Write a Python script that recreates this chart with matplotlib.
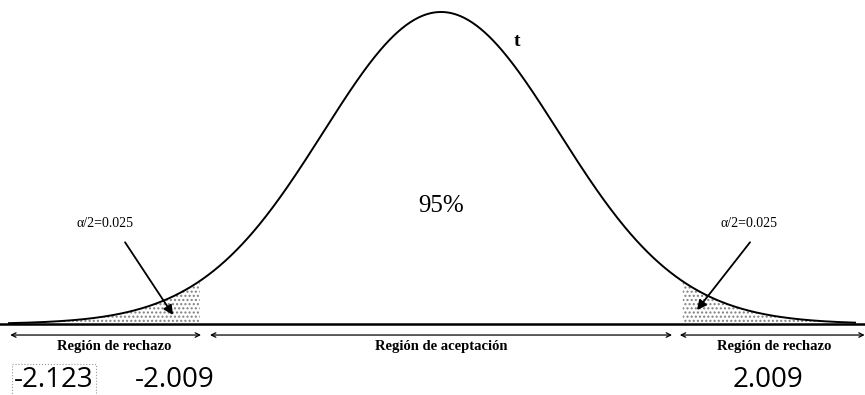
import math
import numpy as np
import matplotlib
matplotlib.use("Agg")
import matplotlib.pyplot as plt

# t distribution, two-sided test at 5%
df = 50
t_crit = 2.009
pct_label = "95%"
alpha_label = "\u03b1/2=0.025"
region_labels = ["Regi\u00f3n de rechazo", "Regi\u00f3n de aceptaci\u00f3n", "Regi\u00f3n de rechazo"]
value_labels = ["-2.123", "-2.009", "2.009"]


def t_pdf(x, v):
    c = math.exp(math.lgamma((v + 1) / 2) - math.lgamma(v / 2)) / math.sqrt(v * math.pi)
    return c * (1 + x ** 2 / v) ** (-(v + 1) / 2)


x = np.linspace(-3.6, 3.45, 600)
y = t_pdf(x, df)

fig = plt.figure(figsize=(8.65, 3.95), dpi=100)
ax = fig.add_axes([0, 0, 1, 1])
ax.set_xlim(-3.675, 3.533)
ax.set_ylim(-0.0903, 0.4122)
ax.axis("off")

# shaded tails
left = x <= -t_crit
right = x >= t_crit
ax.fill_between(x[left], 0, y[left], facecolor="white", edgecolor="0.5", hatch="....", lw=0)
ax.fill_between(x[right], 0, y[right], facecolor="white", edgecolor="0.5", hatch="....", lw=0)

# curve and baseline
ax.plot(x, y, color="black", lw=1.4)
ax.axhline(0, color="black", lw=1.8)

# double arrows for the regions
ya = -0.014
spans = [(-3.59, -2.0), (-1.925, 1.925), (1.99, 3.53)]
for (a, b) in spans:
    ax.annotate("", xy=(b, ya), xytext=(a, ya),
                arrowprops=dict(arrowstyle="<->", lw=0.9, color="black",
                                shrinkA=0, shrinkB=0, mutation_scale=8))

serif = "Liberation Serif"
ax.text(-2.725, -0.028, region_labels[0], ha="center", va="center",
        fontsize=10.5, family=serif, weight="bold")
ax.text(0.0, -0.028, region_labels[1], ha="center", va="center",
        fontsize=10.5, family=serif, weight="bold")
ax.text(2.3, -0.028, region_labels[2], ha="left", va="center",
        fontsize=10.5, family=serif, weight="bold")

# critical values
ax.text(-3.225, -0.0713, value_labels[0], ha="center", va="center", fontsize=20,
        family="Open Sans",
        bbox=dict(boxstyle="square,pad=0.08", fc="none", ec="0.6", ls=":", lw=0.8))
ax.text(-t_crit - 0.208, -0.0713, value_labels[1], ha="center", va="center",
        fontsize=20, family="Open Sans")
ax.text(t_crit + 0.716, -0.0713, value_labels[2], ha="center", va="center",
        fontsize=20, family="Open Sans")

# centre labels
ax.text(0.0, 0.150, pct_label, ha="center", va="center", fontsize=18, family=serif)
ax.text(0.633, 0.359, "t", ha="center", va="center", fontsize=14, family=serif, weight="bold")

# alpha/2 labels with arrows
ax.text(-2.8, 0.1285, alpha_label, ha="center", va="center", fontsize=10, family=serif)
ax.text(2.567, 0.1285, alpha_label, ha="center", va="center", fontsize=10, family=serif)
ax.annotate("", xy=(-2.233, 0.0115), xytext=(-2.633, 0.104),
            arrowprops=dict(arrowstyle="-|>", lw=1.3, color="black",
                            shrinkA=0, shrinkB=0, mutation_scale=14))
ax.annotate("", xy=(2.133, 0.0178), xytext=(2.575, 0.104),
            arrowprops=dict(arrowstyle="-|>", lw=1.3, color="black",
                            shrinkA=0, shrinkB=0, mutation_scale=14))

fig.savefig("out.png", dpi=100)
